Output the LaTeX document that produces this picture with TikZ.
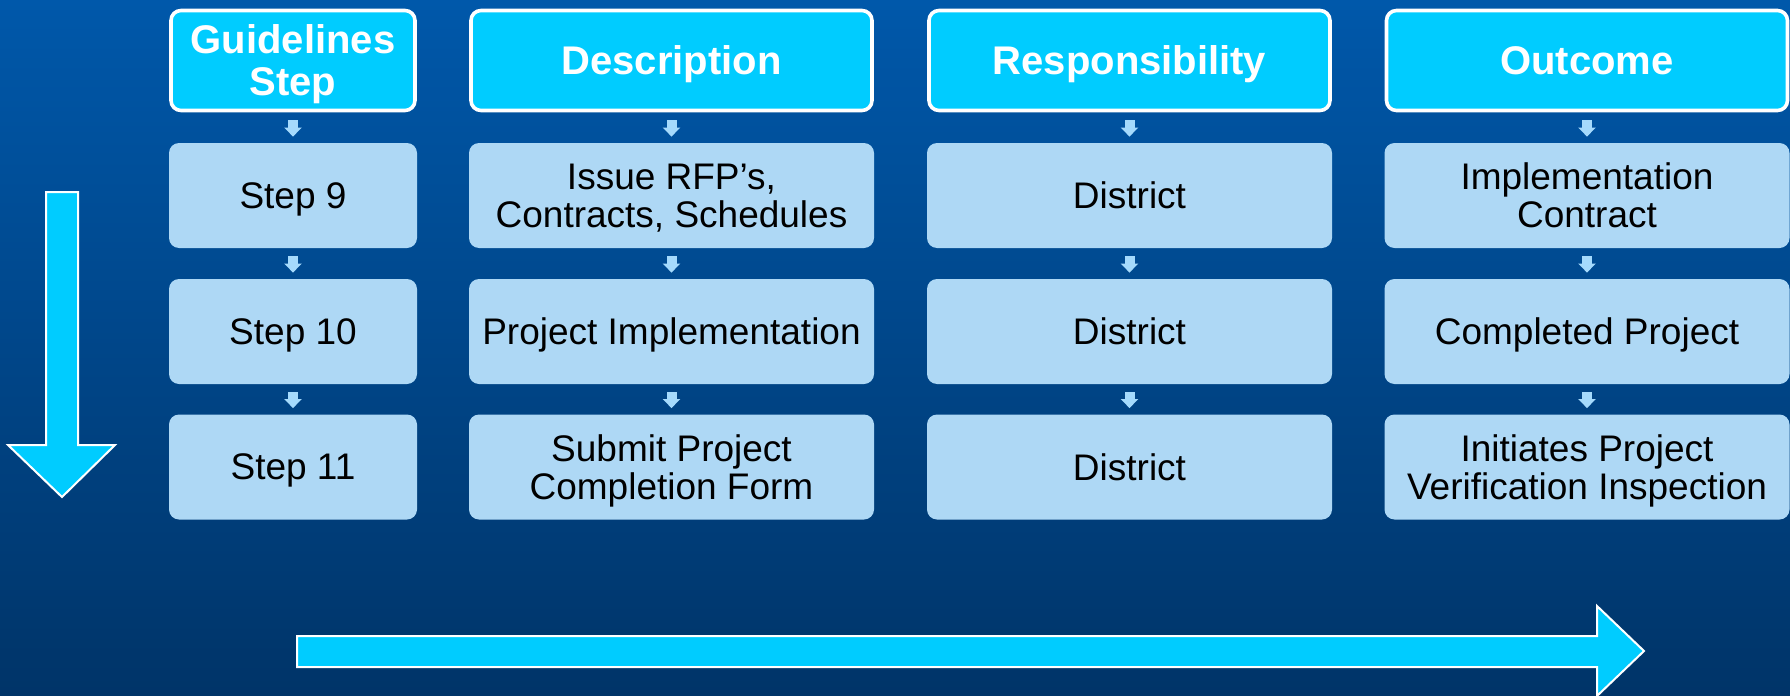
\documentclass[tikz,border=0pt]{standalone}
\usepackage{fontspec}
\setmainfont{Liberation Sans}
\usetikzlibrary{arrows.meta}
\definecolor{bgtop}{RGB}{0,88,170}
\definecolor{bgbot}{RGB}{0,52,104}
\definecolor{hdrcyan}{RGB}{0,204,255}
\definecolor{cellblue}{RGB}{174,216,245}
\definecolor{linkblue}{RGB}{165,218,252}
\begin{document}
\begin{tikzpicture}[x=0.5pt,y=-0.5pt,
  hdr/.style={draw=white, line width=1.8pt, fill=hdrcyan, rounded corners=5pt,
    text=white, font=\fontsize{20}{21}\selectfont\bfseries, align=center,
    minimum height=50pt, inner sep=0pt, text depth=0pt},
  cell/.style={fill=cellblue, rounded corners=5pt,
    font=\fontsize{18.5}{19}\selectfont, align=center,
    minimum height=52.5pt, inner sep=0pt, text=black, text depth=0pt},
  narrow/.style={minimum width=124pt},
  wide/.style={minimum width=202.5pt},
  hnarrow/.style={minimum width=122pt},
  hwide/.style={minimum width=200.5pt},
  link/.style={draw=linkblue, line width=5pt,
    -{Triangle[width=8.5pt,length=4.5pt]}, shorten <=4pt, shorten >=3pt},
  bigarrow/.style={fill=hdrcyan, draw=white, line width=1pt, line join=miter}]
\useasboundingbox (0,0) rectangle (1790,696);
\shade[top color=bgtop, bottom color=bgbot] (0,0) rectangle (1790,696);

% headers
\node[hdr, hnarrow] (h1) at (293,60.5) {Guidelines\\Step};
\node[hdr, hwide] (h2) at (671.5,60.5) {Description};
\node[hdr, hwide] (h3) at (1129.5,60.5) {Responsibility};
\node[hdr, hwide] (h4) at (1587,60.5) {Outcome};

% row 1
\node[cell, narrow] (c11) at (293,195.5) {Step 9};
\node[cell, wide] (c12) at (671.5,195.5) {Issue RFP’s,\\Contracts, Schedules};
\node[cell, wide] (c13) at (1129.5,195.5) {District};
\node[cell, wide] (c14) at (1587,195.5) {Implementation\\Contract};
% row 2
\node[cell, narrow] (c21) at (293,331.5) {Step 10};
\node[cell, wide] (c22) at (671.5,331.5) {Project Implementation};
\node[cell, wide] (c23) at (1129.5,331.5) {District};
\node[cell, wide] (c24) at (1587,331.5) {Completed Project};
% row 3
\node[cell, narrow] (c31) at (293,467) {Step 11};
\node[cell, wide] (c32) at (671.5,467) {Submit Project\\Completion Form};
\node[cell, wide] (c33) at (1129.5,467) {District};
\node[cell, wide] (c34) at (1587,467) {Initiates Project\\Verification Inspection};

% small links
\foreach \c in {1,2,3,4}{
  \draw[link] (h\c) -- (c1\c);
  \draw[link] (c1\c) -- (c2\c);
  \draw[link] (c2\c) -- (c3\c);
}

% big arrows
\draw[bigarrow] (46,192) -- (78,192) -- (78,445) -- (115,445) -- (62,497)
  -- (8,445) -- (46,445) -- cycle;
\draw[bigarrow] (297,636) -- (1597,636) -- (1597,606) -- (1644,651)
  -- (1597,696) -- (1597,667) -- (297,667) -- cycle;
\end{tikzpicture}
\end{document}
